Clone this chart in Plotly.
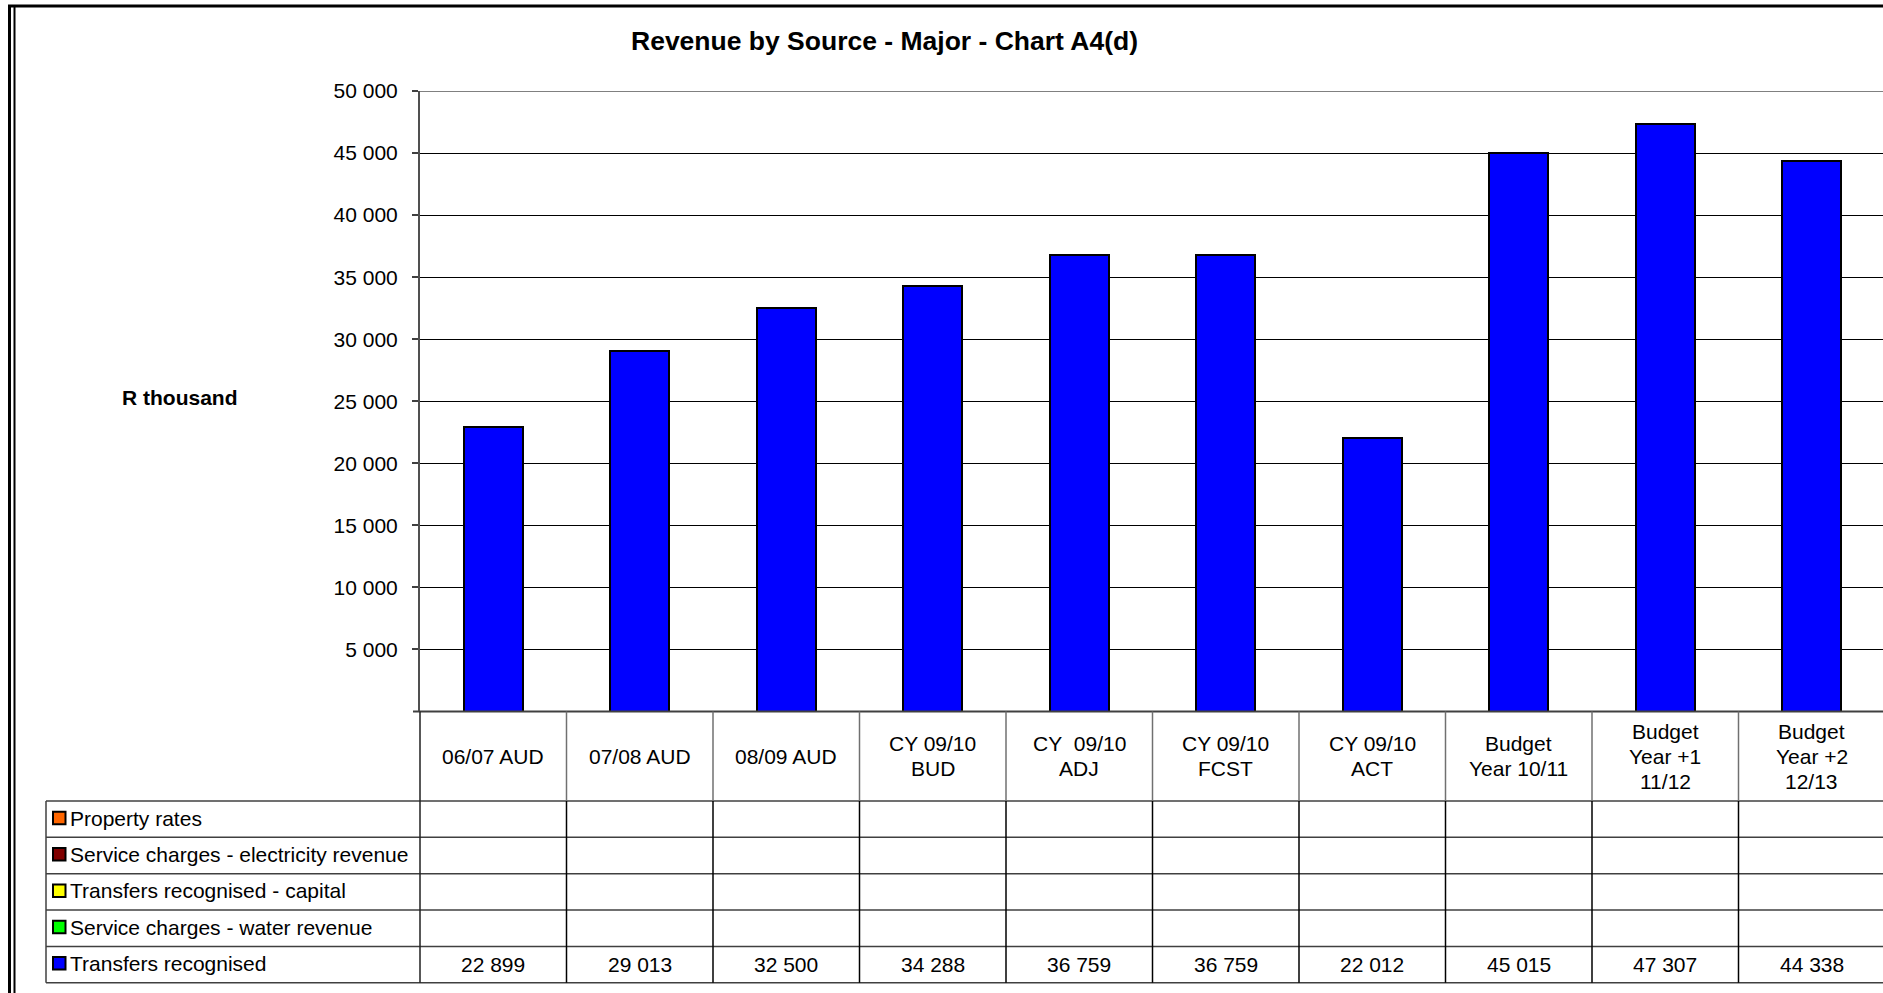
import plotly.graph_objects as go

# ---------------- data ----------------
categories = [
    "06/07 AUD", "07/08 AUD", "08/09 AUD",
    "CY 09/10<br>BUD", "CY\u00a0 09/10<br>ADJ", "CY 09/10<br>FCST", "CY 09/10<br>ACT",
    "Budget<br>Year 10/11", "Budget<br>Year +1<br>11/12", "Budget<br>Year +2<br>12/13",
]
series_names = [
    "Property rates",
    "Service charges - electricity revenue",
    "Transfers recognised - capital",
    "Service charges - water revenue",
    "Transfers recognised",
]
series_colors = ["#FF6600", "#800000", "#FFFF00", "#00FF00", "#0000FF"]
property_rates = [None, None, None, None, None, None, None, None, None, None]
electricity_revenue = [None, None, None, None, None, None, None, None, None, None]
transfers_capital = [None, None, None, None, None, None, None, None, None, None]
water_revenue = [None, None, None, None, None, None, None, None, None, None]
transfers_recognised = [22899, 29013, 32500, 34288, 36759, 36759, 22012, 45015, 47307, 44338]
series_values = [property_rates, electricity_revenue, transfers_capital, water_revenue, transfers_recognised]

y_tickvals = [5000, 10000, 15000, 20000, 25000, 30000, 35000, 40000, 45000, 50000]
y_ticktext = ["5 000", "10 000", "15 000", "20 000", "25 000", "30 000", "35 000", "40 000", "45 000", "50 000"]

title_text = "Revenue by Source - Major - Chart A4(d)"
y_title = "R thousand"

# ---------------- layout constants (pixels) ----------------
W, H = 1883, 993
FONT = "Liberation Sans, Arial, Helvetica, sans-serif"
PLOT_L, PLOT_T, PLOT_B = 420, 91, 711.5
COL_W = 146.5
HEADER_B = 801
ROW_H = 36.35
TABLE_L = 46


def px(x):
    return x / W


def py(y):
    return 1 - y / H


xs = list(range(len(categories)))
x_max = -0.5 + (W - PLOT_L) / COL_W

fig = go.Figure()
for name, color, vals in zip(series_names, series_colors, series_values):
    fig.add_trace(go.Bar(
        x=xs, y=vals, name=name, width=0.4,
        marker=dict(color=color, line=dict(color="black", width=2)),
        showlegend=False,
    ))

fig.update_layout(
    template="none",
    width=W, height=H,
    margin=dict(l=0, r=0, t=0, b=0, pad=0, autoexpand=False),
    paper_bgcolor="white", plot_bgcolor="white",
    barmode="stack",
    showlegend=False,
    font=dict(family=FONT, size=21, color="black"),
    xaxis=dict(
        domain=[px(PLOT_L), 1], range=[-0.5, x_max], automargin=False,
        showgrid=False, zeroline=False, showline=False,
        showticklabels=False, ticks="", fixedrange=True,
    ),
    yaxis=dict(
        domain=[py(PLOT_B), py(PLOT_T)], range=[0, 50000], automargin=False,
        tickvals=y_tickvals, ticktext=y_ticktext,
        ticks="outside", ticklen=6, tickwidth=1.5, tickcolor="#404040",
        ticklabelstandoff=10,
        tickfont=dict(family=FONT, size=21, color="black"),
        showgrid=True, gridcolor="black", gridwidth=1,
        zeroline=False, showline=True, linecolor="#505050", linewidth=2,
        fixedrange=True,
    ),
)

shapes = []
annotations = []

# top border of plot area
shapes.append(dict(type="line", xref="paper", yref="y", x0=px(PLOT_L), x1=1, y0=50000, y1=50000,
                   line=dict(color="#808080", width=2)))
# baseline / table top
shapes.append(dict(type="line", xref="paper", yref="paper", x0=px(413), x1=1, y0=py(PLOT_B), y1=py(PLOT_B),
                   line=dict(color="#404040", width=2)))
# table horizontal lines
n_rows = len(series_names)
for r in range(n_rows + 1):
    yy = HEADER_B + r * ROW_H
    shapes.append(dict(type="line", xref="paper", yref="paper", x0=px(TABLE_L), x1=1, y0=py(yy), y1=py(yy),
                       line=dict(color="#404040", width=1.5)))
table_bottom = HEADER_B + n_rows * ROW_H
# table left border
shapes.append(dict(type="line", xref="paper", yref="paper", x0=px(TABLE_L), x1=px(TABLE_L),
                   y0=py(HEADER_B), y1=py(table_bottom), line=dict(color="#404040", width=1.5)))
# legend column right border (continuation of y axis)
shapes.append(dict(type="line", xref="paper", yref="paper", x0=px(PLOT_L), x1=px(PLOT_L),
                   y0=py(PLOT_B), y1=py(table_bottom), line=dict(color="#202020", width=1.5)))
# column separators
for i in range(1, len(categories) + 1):
    shapes.append(dict(type="line", xref="x", yref="paper", x0=i - 0.5, x1=i - 0.5,
                       y0=py(PLOT_B), y1=py(HEADER_B), line=dict(color="#707070", width=1.5)))
    shapes.append(dict(type="line", xref="x", yref="paper", x0=i - 0.5, x1=i - 0.5,
                       y0=py(HEADER_B), y1=py(table_bottom), line=dict(color="black", width=1.5)))

# category labels in header row
header_c = (PLOT_B + HEADER_B) / 2
LINE_SP = 25
for i, lab in enumerate(categories):
    lines = lab.split("<br>")
    n = len(lines)
    for k, t in enumerate(lines):
        yy = header_c + (k - (n - 1) / 2) * LINE_SP
        annotations.append(dict(x=i, y=py(yy), xref="x", yref="paper", text=t, showarrow=False,
                                xanchor="center", yanchor="middle",
                                font=dict(family=FONT, size=21, color="black")))

# legend rows and values
for r, (name, color, vals) in enumerate(zip(series_names, series_colors, series_values)):
    cy = HEADER_B + (r + 0.5) * ROW_H
    shapes.append(dict(type="rect", xref="paper", yref="paper",
                       x0=px(53), x1=px(65.5), y0=py(cy - 7.5), y1=py(cy + 5),
                       fillcolor=color, line=dict(color="black", width=2)))
    annotations.append(dict(x=px(68), y=py(cy - 1), xref="paper", yref="paper", text=name,
                            showarrow=False, xanchor="left", yanchor="middle",
                            font=dict(family=FONT, size=21, color="black")))
    for i, v in enumerate(vals):
        if v is None:
            continue
        annotations.append(dict(x=i, y=py(cy), xref="x", yref="paper",
                                text=f"{v:,}".replace(",", " "), showarrow=False,
                                xanchor="center", yanchor="middle",
                                font=dict(family=FONT, size=21, color="black")))

# title and axis title
annotations.append(dict(x=px(884), y=py(41), xref="paper", yref="paper", text=f"<b>{title_text}</b>",
                        showarrow=False, xanchor="center", yanchor="middle",
                        font=dict(family=FONT, size=26.5, color="black")))
annotations.append(dict(x=px(180), y=py(397), xref="paper", yref="paper", text=f"<b>{y_title}</b>",
                        showarrow=False, xanchor="center", yanchor="middle",
                        font=dict(family=FONT, size=21, color="black")))

# outer frame (double line on the left, single on top)
shapes.append(dict(type="line", xref="paper", yref="paper", x0=px(9.5), x1=px(9.5), y0=py(5), y1=0,
                   line=dict(color="black", width=3)))
shapes.append(dict(type="line", xref="paper", yref="paper", x0=px(14.5), x1=px(14.5), y0=py(6), y1=0,
                   line=dict(color="black", width=2)))
shapes.append(dict(type="line", xref="paper", yref="paper", x0=px(8), x1=1, y0=py(6), y1=py(6),
                   line=dict(color="black", width=3)))

fig.update_layout(shapes=shapes, annotations=annotations)
fig.write_html("out.html")
